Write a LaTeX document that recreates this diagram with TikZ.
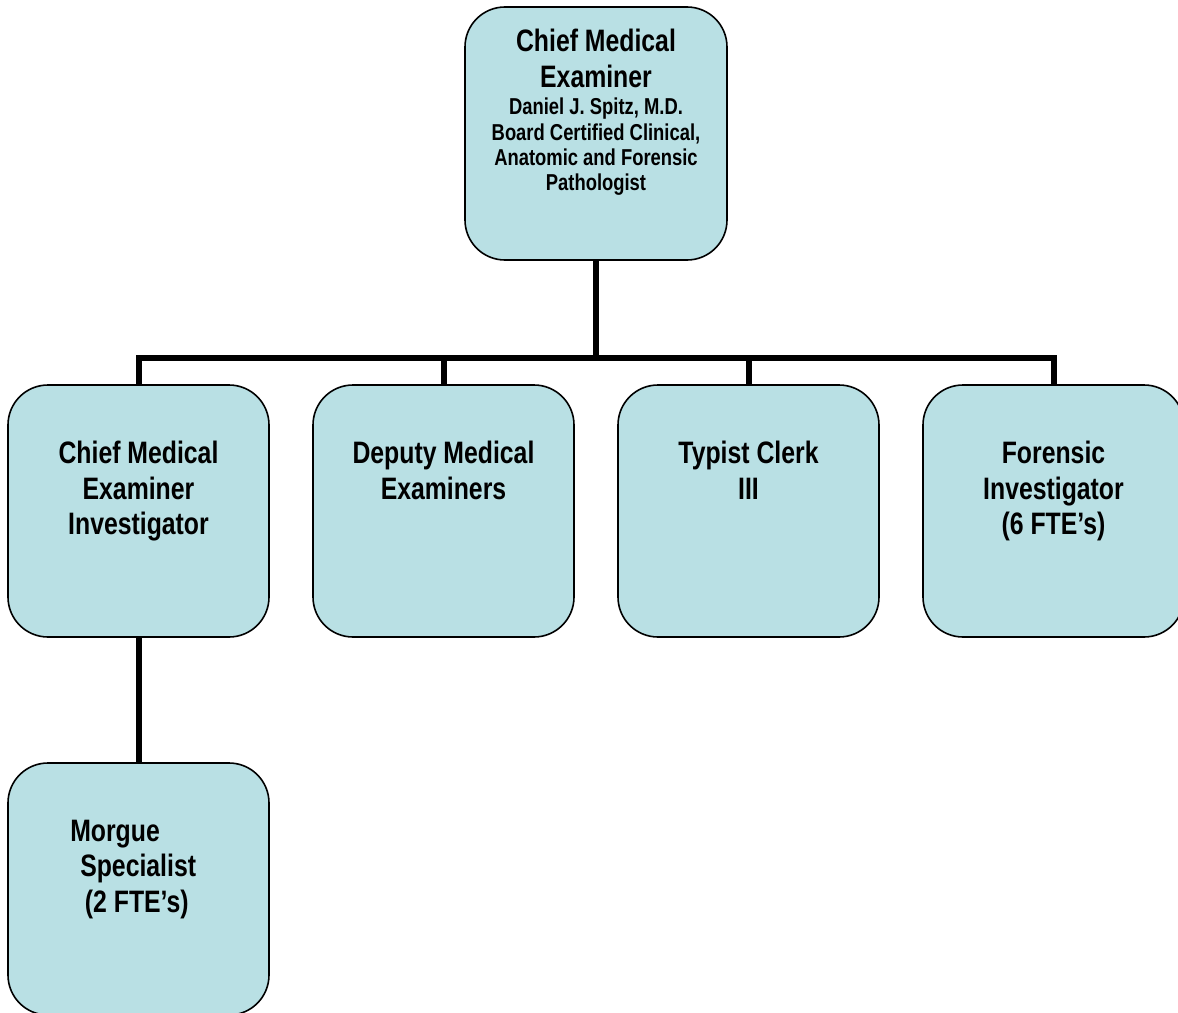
\documentclass[tikz,border=0pt]{standalone}
\usepackage{fontspec}
\setmainfont{Liberation Sans}[FakeStretch=0.8]
\usepackage{tikz}
\definecolor{boxblue}{RGB}{185,224,228}

\begin{document}
\begin{tikzpicture}[x=0.75pt,y=0.75pt,yscale=-1,xscale=1,
  orgbox/.style={draw=black,line width=1.2pt,fill=boxblue,rounded corners=30pt,minimum width=195.75pt,minimum height=189pt,inner sep=0pt},
  orgtext/.style={anchor=north,inner sep=0pt,align=center,font=\bfseries\fontsize{23.25}{26.5}\selectfont},
  subtext/.style={anchor=north,inner sep=0pt,align=center,font=\bfseries\fontsize{17.25}{19}\selectfont},
  link/.style={line width=4.5pt}]
\useasboundingbox (0,0) rectangle (1178,1013);

%Rounded Rect
\node [orgbox,minimum width=196.5pt,minimum height=189.75pt] (cme) at (596,133.5) {};
%Rounded Rect
\node [orgbox] (cmei) at (138.5,511) {};
%Rounded Rect
\node [orgbox] (dme) at (443.5,511) {};
%Rounded Rect
\node [orgbox] (tc) at (748.5,511) {};
%Rounded Rect
\node [orgbox] (fi) at (1053.5,511) {};
%Rounded Rect
\node [orgbox] (ms) at (138.5,889) {};

%Straight Lines
\coordinate (bus) at (596,358);
\draw [link] (cme.south) -- (bus);
\draw [link] (cmei.north) -- (cmei.north |- bus) -| (fi.north);
\draw [link] (dme.north) -- (dme.north |- bus);
\draw [link] (tc.north) -- (tc.north |- bus);
\draw [link] (cmei.south) -- (ms.north);

% Text Node
\node [orgtext] (cmet) at (596,29) {Chief Medical\\Examiner};
% Text Node
\node [subtext] (cmes) at (596,98) {Daniel J. Spitz, M.D.\\Board Certified Clinical,\\Anatomic and Forensic\\Pathologist};
% Text Node
\node [orgtext] (cmeit) at (138.5,441) {Chief Medical\\Examiner\\Investigator};
% Text Node
\node [orgtext] (dmet) at (443.5,441) {Deputy Medical\\Examiners};
% Text Node
\node [orgtext] (tct) at (748.5,441) {Typist Clerk\\III};
% Text Node
\node [orgtext] (fit) at (1053.5,441) {Forensic\\Investigator\\(6 FTE’s)};
% Text Node
\node [orgtext,anchor=north west,align=left] (mst) at (70,820) {Morgue\\\hspace{7.5pt}Specialist\\\hspace{11pt}(2 FTE’s)};

\end{tikzpicture}
\end{document}
